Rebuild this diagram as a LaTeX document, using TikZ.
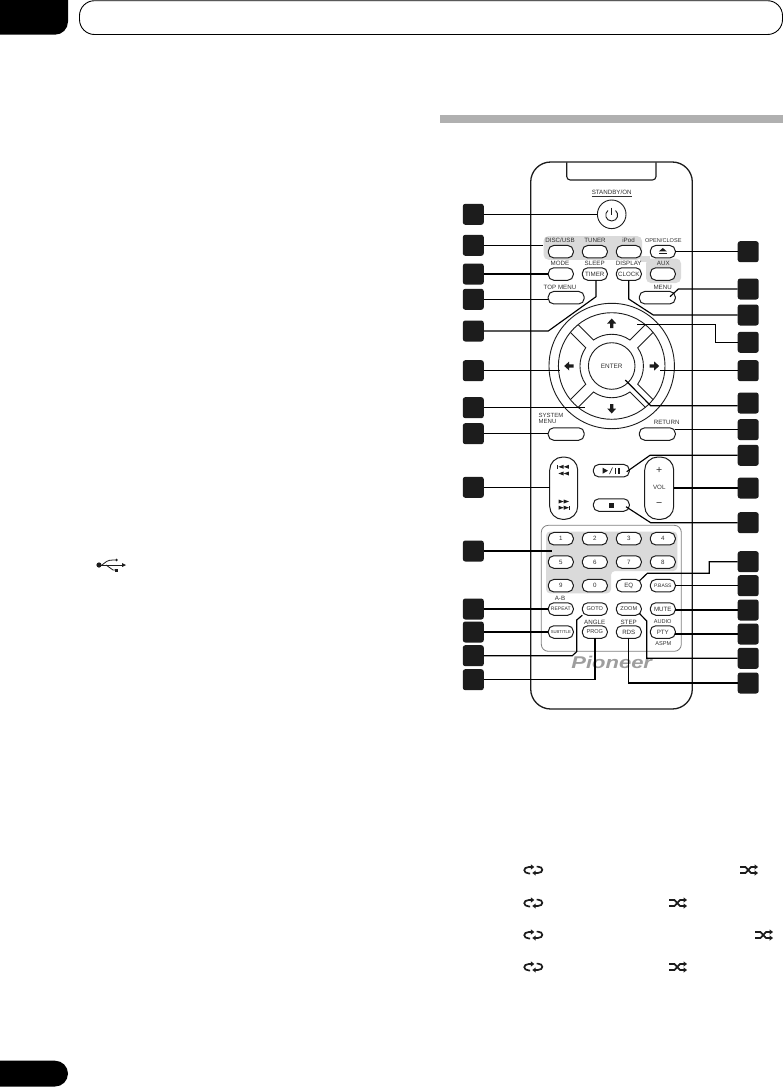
\documentclass[tikz,border=0pt]{standalone}
\usepackage{fontspec}
\setmainfont{Liberation Sans}
\usetikzlibrary{calc}
\definecolor{ink}{HTML}{1C1C1C}
\definecolor{txt}{HTML}{303030}
\definecolor{panelgray}{HTML}{DADADA}
\tikzset{
  x=1pt,y=-1pt,
  sq/.style={draw=none,fill=ink,rounded corners=2.5pt,minimum size=21pt,inner sep=0pt,outer sep=0pt},
  btn/.style={draw=ink,fill=white,line width=1pt,rounded corners=5.5pt,minimum width=25pt,minimum height=12.5pt,inner sep=0pt,outer sep=0pt,text=txt,font=\fontsize{6.2}{7}\selectfont},
  widebtn/.style={btn,minimum width=36pt},
  lab/.style={inner sep=0pt,outer sep=0pt,text=txt,font=\fontsize{6.2}{7}\selectfont},
  conn/.style={draw=black,line width=1.15pt},
  thinconn/.style={draw=black,line width=0.8pt},
  glyph/.style={fill=ink,draw=none},
}
\newcommand{\skipupper}[2]{%
  \fill[ink] (#1-5,#2) -- (#1+0.3,#2-2) -- (#1+0.3,#2+2) -- cycle;
  \fill[ink] (#1+0.3,#2) -- (#1+5.5,#2-2) -- (#1+5.5,#2+2) -- cycle;
}
\newcommand{\skiplower}[2]{%
  \fill[ink] (#1+5,#2) -- (#1-0.3,#2-2) -- (#1-0.3,#2+2) -- cycle;
  \fill[ink] (#1-0.3,#2) -- (#1-5.5,#2-2) -- (#1-5.5,#2+2) -- cycle;
}
\newcommand{\repeaticon}[2]{%
  \begin{scope}[shift={(#1,#2)}]
    \draw[ink,line width=1.7pt] (-1.5,-3) -- (-4.5,-3) .. controls (-10.5,-3) and (-10.5,3.4) .. (-4.5,3.4) -- (-3.2,3.4);
    \fill[ink] (1,-3) -- (-2.4,-5.6) -- (-2.4,-0.4) -- cycle;
    \draw[ink,line width=1.7pt] (1.5,3) -- (4.5,3) .. controls (10.5,3) and (10.5,-3.4) .. (4.5,-3.4) -- (3.2,-3.4);
    \fill[ink] (-1,3) -- (2.4,0.4) -- (2.4,5.6) -- cycle;
  \end{scope}}
\newcommand{\shuffleicon}[2]{%
  \begin{scope}[shift={(#1,#2)}]
    \draw[ink,line width=1.7pt] (-9,-3) -- (-3.5,-3) -- (2,3) -- (6,3);
    \draw[ink,line width=1.7pt] (-9,3) -- (-3.5,3) -- (2,-3) -- (6,-3);
    \fill[ink] (9,-3) -- (5.6,-5.6) -- (5.6,-0.4) -- cycle;
    \fill[ink] (9,3) -- (5.6,0.4) -- (5.6,5.6) -- cycle;
  \end{scope}}
\begin{document}
\begin{tikzpicture}
\useasboundingbox (0,0) rectangle (783,1087);
\fill[white] (0,0) rectangle (783,1087);
% page furniture
\fill[black,rounded corners=13pt] (-30,-30) rectangle (68,34.7);
\draw[black,line width=0.9pt,rounded corners=15pt] (79.5,0.7) rectangle (782.5,34.5);
\fill[black,rounded corners=13pt] (-30,1060.7) rectangle (68,1086.5);
\fill[black!31] (440,115) rectangle (783,123);
% USB symbol
\fill[ink] (99,565) circle[radius=2.6pt];
\draw[ink,line width=0.8pt] (99,565) -- (123,565);
\fill[ink] (126,565) -- (122,563) -- (122,567) -- cycle;
\draw[ink,line width=0.8pt] (102,565) .. controls (106,562) and (107,560) .. (113,560) -- (115,560);
\fill[ink] (116.5,560) circle[radius=1.4pt];
\draw[ink,line width=0.8pt] (106,565) -- (113,570) -- (115,570);
\fill[ink] (115,568.5) rectangle (118,571.5);
% remote body
\draw[ink,line width=1.3pt,fill=white,rounded corners=20pt] (530.7,162) rectangle (692.3,709);
\draw[ink,line width=1.1pt,rounded corners=3.5pt] (566.7,162.4) -- (566.7,180) -- (656,180) -- (656,162.4);
% gray areas
\fill[panelgray,rounded corners=5pt] (543.5,236) rectangle (642,259.8);
\fill[panelgray,rounded corners=5pt] (646,258.5) rectangle (681,283);
\fill[panelgray] (640,256) rectangle (650,262);
\draw[black!50,line width=0.8pt,rounded corners=7pt] (541.3,525.3) rectangle (681.3,651.3);
\fill[panelgray,rounded corners=4pt] (546,531.5) -- (677.3,531.5) -- (677.3,571) -- (611,571) -- (611,593.3) -- (546,593.3) -- cycle;
% power
\node[draw=ink,circle,line width=0.9pt,minimum size=28.6pt,inner sep=0pt,outer sep=0pt,fill=white] (power) at (611.7,214.3) {};
\draw[ink,line width=0.9pt] (607.9,210.5) .. controls (604,213.5) and (605.5,221) .. (611.7,221) .. controls (617.9,221) and (619.4,213.5) .. (615.5,210.5);
\draw[ink,line width=0.9pt] (611.7,207.5) -- (611.7,214.5);
\node[lab] (standby) at (611.7,193.2) {\underline{STANDBY/ON}};
% top rows
\node[lab] (tdisc) at (560,240.3) {DISC/USB};
\node[lab] (ttuner) at (595,240.3) {TUNER};
\node[lab] (tipod) at (628.5,240.3) {iPod};
\node[lab,font=\fontsize{5.6}{7}\selectfont] (topen) at (663.3,240.3) {OPEN/CLOSE};
\node[btn] (disc) at (560.8,251.7) {};
\node[btn] (tuner) at (594.8,251.7) {};
\node[btn] (ipod) at (628.8,251.7) {};
\node[btn] (eject) at (662.8,251.7) {};
\fill[ink] (658.8,251.4) -- (662.8,248) -- (666.8,251.4) -- cycle;
\fill[ink] (658.8,252.6) rectangle (666.8,254);
\node[lab] (tmode) at (560,263.7) {MODE};
\node[lab] (tsleep) at (594.7,263.7) {SLEEP};
\node[lab] (tdisplay) at (628.7,263.7) {DISPLAY};
\node[lab] (taux) at (663.3,263.7) {AUX};
\node[btn] (mode) at (560.8,274) {};
\node[btn] (timer) at (594.8,274) {TIMER};
\node[btn] (clock) at (628.8,274) {CLOCK};
\node[btn] (aux) at (662.8,274) {};
\node[lab] (ttop) at (560,287.3) {TOP MENU};
\node[lab] (tmenu) at (662.7,287.3) {MENU};
\node[widebtn] (topmenu) at (566.2,297.7) {};
\node[widebtn] (menu) at (657.3,297.7) {};
% d-pad
\draw[ink,line width=0.9pt] (611.7,366) circle[radius=62.7pt];
\draw[ink,line width=0.9pt] (611.7,366) circle[radius=53.3pt];
\foreach \a in {0,90,180,270}{
  \begin{scope}[shift={(611.7,366)},rotate=\a]
    \draw[ink,line width=0.9pt] (-33.5,41.3) -- (-18.2,26) .. controls (-7.3,33.65) and (7.3,33.65) .. (18.2,26) -- (33.5,41.3);
  \end{scope}
}
\node[draw=ink,circle,line width=0.9pt,minimum size=46.6pt,inner sep=0pt,outer sep=0pt,text=txt,font=\fontsize{6.4}{7}\selectfont] (enter) at (611.7,366) {ENTER};
\foreach \a in {0,90,180,270}{
  \begin{scope}[shift={(611.7,366)},rotate=\a]
    \fill[ink] (-4.5,-42.5) -- (0,-47.5) -- (4.5,-42.5) -- (1.6,-42.5) -- (1.6,-38) -- (-1.6,-38) -- (-1.6,-42.5) -- cycle;
  \end{scope}
}
% system menu / return
\node[lab,align=left,font=\fontsize{6}{5.6}\selectfont] (tsys) at (551,418.7) {SYSTEM\\MENU};
\node[lab] (tret) at (666.7,422) {RETURN};
\node[widebtn] (sysmenu) at (566.2,434) {};
\node[widebtn] (return) at (657.3,434) {};
% rockers and transport
\node[draw=ink,fill=white,line width=1pt,rounded corners=13pt,minimum width=28pt,minimum height=62.3pt,inner sep=0pt,outer sep=0pt] (skip) at (563.7,488.2) {};
\node[draw=ink,fill=white,line width=1pt,rounded corners=13pt,minimum width=29pt,minimum height=62.3pt,inner sep=0pt,outer sep=0pt] (vol) at (659.2,488.2) {};
\skipupper{563.4}{466.8}
\fill[ink] (557.4,464.8) rectangle (558.2,468.8);
\skipupper{563.4}{473.5}
\skiplower{564}{501.5}
\skiplower{564}{507.7}
\fill[ink] (569,505.7) rectangle (569.8,509.7);
\node[lab,font=\fontsize{10.5}{10}\selectfont] (plus) at (659.3,470.7) {+};
\node[lab] (tvol) at (659.3,487.7) {VOL};
\node[lab,font=\fontsize{10.5}{10}\selectfont] (minus) at (659.3,504.3) {−};
\node[widebtn] (play) at (611.3,470.7) {};
\fill[ink] (602.5,467.7) -- (608,470.7) -- (602.5,473.7) -- cycle;
\draw[ink,line width=0.6pt] (609.5,474) -- (612.5,467.5);
\fill[ink] (614.5,467.8) rectangle (616,473.6);
\fill[ink] (618,467.8) rectangle (619.5,473.6);
\node[widebtn] (stop) at (611.3,505) {};
\fill[ink] (609,502.5) rectangle (614,507.5);
% number keys
\node[btn] (k1) at (560.8,538.7) {1};
\node[btn] (k2) at (594.8,538.7) {2};
\node[btn] (k3) at (628.8,538.7) {3};
\node[btn] (k4) at (662.8,538.7) {4};
\node[btn] (k5) at (560.8,562) {5};
\node[btn] (k6) at (594.8,562) {6};
\node[btn] (k7) at (628.8,562) {7};
\node[btn] (k8) at (662.8,562) {8};
\node[btn] (k9) at (560.8,585.7) {9};
\node[btn] (k0) at (594.8,585.7) {0};
\node[btn] (eq) at (628.8,585.7) {EQ};
\node[btn,font=\fontsize{5}{6}\selectfont] (pbass) at (662.8,585.7) {P.BASS};
\node[lab] (tab) at (560,598.3) {A-B};
\node[btn,font=\fontsize{5}{6}\selectfont] (repeat) at (560.8,609) {REPEAT};
\node[btn,font=\fontsize{5.6}{6}\selectfont] (goto) at (594.8,609) {GOTO};
\node[btn,font=\fontsize{5.6}{6}\selectfont] (zoom) at (628.8,609) {ZOOM};
\node[btn] (mute) at (662.8,609) {MUTE};
\node[lab] (tangle) at (594.7,622) {ANGLE};
\node[lab] (tstep) at (628.7,622) {STEP};
\node[lab,font=\fontsize{5.6}{6}\selectfont] (taudio) at (662.7,622) {AUDIO};
\node[btn,font=\fontsize{4.2}{6}\selectfont] (subtitle) at (560.8,632) {SUBTITLE};
\node[btn,font=\fontsize{5.6}{6}\selectfont] (prog) at (594.8,632) {PROG};
\node[btn] (rds) at (628.8,632) {RDS};
\node[btn] (pty) at (662.8,632) {PTY};
\node[lab,font=\fontsize{5.6}{6}\selectfont] (taspm) at (663.3,643.3) {ASPM};
\node[inner sep=0pt,outer sep=0pt,text=black!38,font=\fontsize{20}{20}\bfseries\itshape\selectfont,xscale=1.1,yscale=-0.85,transform shape] (logo) at (611.7,662) {\scalebox{1}[-1]{Pioneer}};
% callout squares left
\node[sq] (l1) at (473.3,214.3) {};
\node[sq] (l2) at (473.3,245.3) {};
\node[sq] (l3) at (473.3,274) {};
\node[sq] (l4) at (473.3,299.3) {};
\node[sq] (l5) at (473.3,331) {};
\node[sq] (l6) at (473.3,370.7) {};
\node[sq] (l7) at (473.3,407.7) {};
\node[sq] (l8) at (473.3,433.7) {};
\node[sq] (l9) at (473.3,487.3) {};
\node[sq] (l10) at (473.3,551) {};
\node[sq] (l11) at (473.3,609) {};
\node[sq] (l12) at (473.3,632) {};
\node[sq] (l13) at (473.3,655.7) {};
\node[sq] (l14) at (473.3,679.7) {};
% callout squares right
\node[sq] (r1) at (748.2,251.7) {};
\node[sq] (r2) at (748.2,289) {};
\node[sq] (r3) at (748.2,315) {};
\node[sq] (r4) at (748.2,342.3) {};
\node[sq] (r5) at (748.2,370.7) {};
\node[sq] (r6) at (748.2,403) {};
\node[sq] (r7) at (748.2,429.7) {};
\node[sq] (r8) at (748.2,455.3) {};
\node[sq] (r9) at (748.2,488) {};
\node[sq] (r10) at (748.2,522.7) {};
\node[sq] (r11) at (748.2,561.7) {};
\node[sq] (r12) at (748.2,585.7) {};
\node[sq] (r13) at (748.2,610) {};
\node[sq] (r14) at (748.2,634) {};
\node[sq] (r15) at (748.2,658.3) {};
\node[sq] (r16) at (748.2,683) {};
% free ends
\coordinate (e2) at (543.3,245.3);
\coordinate (e6) at (560,370.7);
\coordinate (e7) at (585,407.7);
\coordinate (e10) at (551.7,551);
\coordinate (f4) at (636.7,324.3);
\coordinate (f5) at (660,370.7);
\coordinate (f6) at (625.3,380);
\coordinate (g6) at (650.7,405.7);
% left connectors
\draw[conn] (l1.east) -- (power.west);
\draw[thinconn] (l2.east) -- (e2);
\draw[conn] (l3.east) -- (l3.east -| mode.west);
\draw[conn] (l4.east) -- (l4.east -| topmenu.west);
\draw[conn] (l5.east) -- (548.3,331) -- (596,296.7) -- (596,280.3);
\draw[conn] (l6.east) -- (e6);
\draw[thinconn] (l7.east) -- (e7);
\draw[conn] (l8.east) -- (l8.east -| sysmenu.west);
\draw[conn] (l9.east) -- (l9.east -| skip.west);
\draw[conn] (l10.east) -- (e10);
\draw[conn] (l11.east) -- (l11.east -| repeat.west);
\draw[conn] (l12.east) -- (l12.east -| subtitle.west);
\draw[conn] (l13.east) -- (572.3,655.7) -- (576.7,651.7) -- (576.7,620) -- (goto.south west);
\draw[conn] (l14.east) -- (595,679.7) -- (595,638.3);
% right connectors
\draw[conn] (r1.west) -- (r1.west -| eject.east);
\draw[conn] (r2.west) -- (678.3,289) -- (670,296.7);
\draw[conn] (r3.west) -- (653.3,315) -- (628.7,299) -- (628.7,280.3);
\draw[conn] (r4.west) -- (715.7,342.3) -- (715.7,324.3) -- (f4);
\draw[conn] (r5.west) -- (f5);
\draw[conn] (g6 -| r6.west) -- (g6) -- (f6);
\draw[conn] (r7.west) -- (r7.west -| return.east);
\draw[conn] (r8.west) -- (650,455.3) -- (626.7,471.7);
\draw[conn] (r9.west) -- (r9.west -| vol.east);
\draw[conn] (r10.west) -- (650.7,522.7) -- (626,506.7);
\draw[conn] (r11.west) -- (709.3,561.7) -- (709.3,573.3) -- (647.3,573.3) -- (639.3,581);
\draw[conn] (r12.west) -- (r12.west -| pbass.east);
\draw[conn] (r13.west) -- (r13.west -| mute.east);
\draw[conn] (r14.west) -- (r14.west -| pty.east);
\draw[conn] (r15.west) -- (646.7,658.3) -- (646.7,621) -- (639.3,613.3);
\draw[conn] (r16.west) -- (628.7,683) -- (628.7,638.3);
% mode icons
\repeaticon{533.3}{870}
\shuffleicon{749}{870}
\repeaticon{533.3}{903}
\shuffleicon{678}{903}
\repeaticon{533.3}{935}
\shuffleicon{764}{935}
\repeaticon{533.3}{967}
\shuffleicon{678}{967}
\end{tikzpicture}
\end{document}
